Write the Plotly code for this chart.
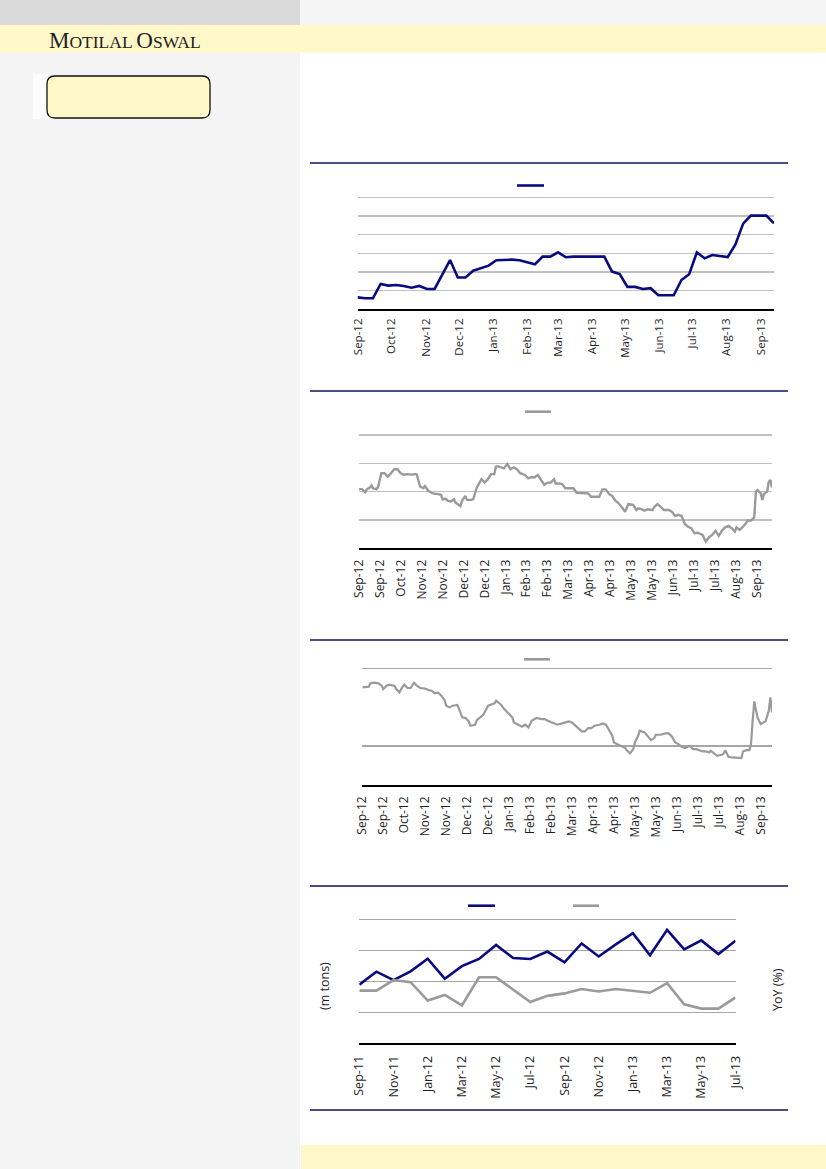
import pandas as pd
import plotly.graph_objects as go

W, H = 826, 1169
def X(px): return px / W
def Y(py): return 1 - py / H

# ---------------- Chart 1 : weekly series ----------------
c1_start = "2012-08-31"
c1_values = [0.64, 0.59, 0.59, 1.36, 1.27, 1.30, 1.25, 1.16, 1.25, 1.09, 1.09, 1.84, 2.64,
             1.70, 1.70, 2.07, 2.20, 2.34, 2.63, 2.66, 2.66, 2.63, 2.52, 2.41, 2.82, 2.82,
             3.05, 2.79, 2.82, 2.82, 2.82, 2.82, 2.82, 2.02, 1.89, 1.20, 1.20, 1.09, 1.13,
             0.75, 0.75, 0.75, 1.57, 1.88, 3.05, 2.73, 2.91, 2.86, 2.80, 3.48, 4.59, 5.02,
             5.02, 5.02, 4.61]
c1_dates = pd.date_range(c1_start, periods=len(c1_values), freq="7D")

# ---------------- Chart 2 : daily series (trading-day index) ----------------
c2_day = [0, 2, 4, 5, 7, 8, 9, 11, 12, 14, 16, 18, 20, 22, 24, 26, 28, 30, 33, 35, 36, 38, 40, 41,
          43, 45, 47, 49, 51, 52, 54, 55, 57, 59, 60, 63, 64, 66, 67, 70, 71, 73, 76, 78, 80, 82,
          84, 85, 86, 88, 90, 92, 94, 96, 98, 100, 103, 105, 107, 109, 111, 113, 115, 117, 119,
          121, 122, 124, 126, 128, 130, 133, 135, 137, 140, 142, 144, 147, 149, 151, 153, 155,
          157, 159, 161, 163, 165, 167, 170, 172, 173, 175, 177, 179, 182, 183, 185, 187, 189,
          192, 194, 196, 198, 200, 202, 204, 206, 208, 210, 213, 215, 217, 219, 221, 223, 225,
          227, 229, 231, 233, 234, 236, 239, 241, 243, 245, 246, 247, 249, 250, 251, 253, 254,
          255, 256]
c2_val = [2.09, 2.09, 1.98, 2.08, 2.15, 2.22, 2.11, 2.09, 2.16, 2.65, 2.65, 2.53, 2.65, 2.79, 2.79,
          2.65, 2.60, 2.62, 2.60, 2.62, 2.60, 2.18, 2.12, 2.20, 2.04, 1.96, 1.92, 1.92, 1.88, 1.73,
          1.75, 1.68, 1.65, 1.73, 1.61, 1.49, 1.68, 1.85, 1.71, 1.71, 1.74, 2.12, 2.44, 2.32, 2.44,
          2.62, 2.62, 2.88, 2.90, 2.86, 2.82, 2.98, 2.79, 2.86, 2.79, 2.65, 2.59, 2.47, 2.51, 2.51,
          2.59, 2.41, 2.24, 2.32, 2.32, 2.44, 2.29, 2.29, 2.27, 2.12, 2.12, 2.12, 1.96, 1.96, 1.96,
          1.94, 1.82, 1.82, 1.82, 2.08, 2.08, 1.92, 1.85, 1.68, 1.59, 1.45, 1.29, 1.56, 1.53, 1.35,
          1.41, 1.38, 1.33, 1.38, 1.35, 1.45, 1.56, 1.47, 1.35, 1.35, 1.29, 1.14, 1.18, 1.14, 0.86,
          0.76, 0.71, 0.53, 0.55, 0.47, 0.24, 0.39, 0.47, 0.62, 0.44, 0.62, 0.74, 0.79, 0.71, 0.59,
          0.74, 0.65, 0.82, 0.98, 0.98, 1.09, 2.00, 2.06, 1.94, 1.71, 1.92, 2.00, 2.35, 2.41, 2.15]
c2_last_day = 256

# ---------------- Chart 3 : daily series (trading-day index) ----------------
c3_day = [0, 2, 4, 5, 7, 10, 12, 13, 15, 17, 20, 21, 23, 25, 26, 28, 30, 32, 34, 36, 39, 41, 43,
          45, 47, 49, 51, 52, 54, 56, 59, 60, 62, 64, 66, 67, 70, 71, 73, 75, 78, 80, 82, 83, 86,
          88, 91, 93, 94, 97, 99, 101, 103, 105, 107, 108, 111, 113, 115, 118, 120, 121, 124, 126,
          128, 130, 132, 134, 136, 138, 140, 142, 144, 147, 149, 151, 153, 155, 156, 158, 161,
          163, 164, 166, 168, 169, 171, 172, 175, 178, 179, 181, 182, 185, 188, 190, 192, 194,
          196, 198, 200, 203, 205, 207, 209, 211, 213, 215, 216, 218, 220, 223, 224, 225, 227,
          229, 232, 235, 236, 238, 240, 241, 242, 243, 245, 247, 250, 252, 253, 254]
c3_val = [1.755, 1.755, 1.764, 1.807, 1.815, 1.807, 1.777, 1.734, 1.777, 1.790, 1.773, 1.734, 1.691,
          1.764, 1.790, 1.747, 1.747, 1.815, 1.773, 1.747, 1.738, 1.721, 1.712, 1.678, 1.687, 1.648,
          1.592, 1.519, 1.498, 1.519, 1.528, 1.476, 1.369, 1.360, 1.318, 1.262, 1.275, 1.335, 1.369,
          1.403, 1.519, 1.532, 1.549, 1.584, 1.532, 1.476, 1.412, 1.369, 1.305, 1.275, 1.249, 1.275,
          1.240, 1.326, 1.348, 1.361, 1.348, 1.348, 1.326, 1.305, 1.292, 1.275, 1.292, 1.305, 1.318,
          1.305, 1.262, 1.219, 1.189, 1.189, 1.232, 1.232, 1.262, 1.275, 1.292, 1.275, 1.197, 1.133,
          1.047, 1.026, 1.004, 0.974, 0.948, 0.906, 0.961, 1.047, 1.133, 1.197, 1.176, 1.103, 1.077,
          1.103, 1.146, 1.146, 1.163, 1.163, 1.120, 1.047, 1.026, 0.991, 0.974, 1.004, 0.961, 0.961,
          0.948, 0.931, 0.931, 0.918, 0.940, 0.906, 0.876, 0.888, 0.906, 0.948, 0.863, 0.854, 0.854,
          0.845, 0.931, 0.948, 0.948, 1.026, 1.326, 1.575, 1.369, 1.283, 1.318, 1.455, 1.627, 1.433]
c3_last_day = 254

daily_tick_labels = ["Sep-12", "Sep-12", "Oct-12", "Nov-12", "Nov-12", "Dec-12", "Dec-12",
                     "Jan-13", "Feb-13", "Feb-13", "Mar-13", "Apr-13", "Apr-13", "May-13",
                     "May-13", "Jun-13", "Jul-13", "Jul-13", "Aug-13", "Sep-13"]
daily_tick_step = 13

# ---------------- Chart 4 : monthly, two series ----------------
c4_months = ["Sep-11", "Oct-11", "Nov-11", "Dec-11", "Jan-12", "Feb-12", "Mar-12", "Apr-12",
             "May-12", "Jun-12", "Jul-12", "Aug-12", "Sep-12", "Oct-12", "Nov-12", "Dec-12",
             "Jan-13", "Feb-13", "Mar-13", "Apr-13", "May-13", "Jun-13", "Jul-13"]
c4_volume = [1.89, 2.31, 2.04, 2.32, 2.73, 2.08, 2.49, 2.72, 3.17, 2.75, 2.72, 2.96, 2.61, 3.22,
             2.80, 3.19, 3.55, 2.84, 3.66, 3.03, 3.32, 2.88, 3.31]
c4_yoy = [1.70, 1.70, 2.04, 1.97, 1.38, 1.56, 1.22, 2.13, 2.13, 1.72, 1.33, 1.53, 1.61, 1.75,
          1.67, 1.75, 1.68, 1.63, 1.94, 1.26, 1.12, 1.12, 1.48]
c4_left_title = "(m tons)"
c4_right_title = "YoY (%)"

brand_text = ("<span style='font-size:23px'>M</span>OTILAL "
              "<span style='font-size:23px'>O</span>SWAL")

# ---------------- styling ----------------
NAVY = "#0a0a80"
GREY = "#9a9a9a"
YELLOW = "#fff8c9"
RULE = "#12125e"
def tf(size):
    return dict(family="Open Sans", size=size, color="#1e1e1e")

fig = go.Figure()
fig.add_trace(go.Scatter(x=c1_dates, y=c1_values, mode="lines", hoverinfo="skip",
                         line=dict(color=NAVY, width=2.6), xaxis="x", yaxis="y"))
fig.add_trace(go.Scatter(x=c2_day, y=c2_val, mode="lines", hoverinfo="skip",
                         line=dict(color=GREY, width=2.4), xaxis="x2", yaxis="y2"))
fig.add_trace(go.Scatter(x=c3_day, y=c3_val, mode="lines", hoverinfo="skip",
                         line=dict(color=GREY, width=2.2), xaxis="x3", yaxis="y3"))
fig.add_trace(go.Scatter(x=c4_months, y=c4_volume, mode="lines", hoverinfo="skip",
                         line=dict(color=NAVY, width=2.6), xaxis="x4", yaxis="y4"))
fig.add_trace(go.Scatter(x=c4_months, y=c4_yoy, mode="lines", hoverinfo="skip",
                         line=dict(color=GREY, width=2.6), xaxis="x4", yaxis="y5"))

def xax(x0, x1, anchor, standoff, size, **kw):
    d = dict(domain=[X(x0), X(x1)], anchor=anchor, showgrid=False, zeroline=False,
             showline=True, linecolor="black", linewidth=1.6, ticks="outside", ticklen=2,
             tickcolor="rgba(0,0,0,0)", tickangle=-90, tickfont=tf(size),
             ticklabelstandoff=standoff, fixedrange=True, automargin=False)
    d.update(kw)
    return d

def yax(y_top_grid, y_axis, anchor, vmin, vmax, vals, grid):
    # extend the plot 2px above the top gridline so that gridline is drawn
    ppu = (y_axis - y_top_grid) / (vmax - vmin)
    extra = 2.0
    return dict(domain=[Y(y_axis), Y(y_top_grid - extra)], anchor=anchor,
                range=[vmin, vmax + extra / ppu], tickvals=vals,
                showticklabels=False, showgrid=True, gridcolor=grid, gridwidth=1.2,
                zeroline=False, showline=False, ticks="", fixedrange=True, automargin=False)

fig.update_layout(
    width=W, height=H, autosize=False,
    margin=dict(l=0, r=0, t=0, b=0, pad=0, autoexpand=False),
    paper_bgcolor="white", plot_bgcolor="rgba(0,0,0,0)", showlegend=False,
    xaxis=xax(357.5, 774, "y", 1, 11.5, type="date", range=[c1_dates[0], c1_dates[-1]],
              dtick="M1", tick0="2012-09-01", tickformat="%b-%y"),
    yaxis=yax(197.3, 309.3, "x", 0, 6, [1, 2, 3, 4, 5, 6], "#c0c0c0"),
    xaxis2=xax(358.7, 772, "y2", 3, 12, range=[0, c2_last_day],
               tickvals=[i * daily_tick_step for i in range(len(daily_tick_labels))],
               ticktext=daily_tick_labels),
    yaxis2=yax(435, 548.3, "x2", 0, 4, [1, 2, 3, 4], "#c0c0c0"),
    xaxis3=xax(362.3, 772, "y3", 3, 12, range=[0, c3_last_day],
               tickvals=[i * daily_tick_step for i in range(len(daily_tick_labels))],
               ticktext=daily_tick_labels),
    yaxis3=yax(668.3, 785, "x3", 0.5, 2, [1, 2], "#a6a6a6"),
    xaxis4=xax(359.3, 735.5, "y4", 4, 12.5, type="category", range=[0, len(c4_months) - 1],
               tickvals=c4_months[::2]),
    yaxis4=yax(919.3, 1043.3, "x4", 0, 4, [1, 2, 3, 4], "#a6a6a6"),
)
y4 = fig.layout.yaxis4
fig.update_layout(yaxis5=dict(overlaying="y4", side="right", anchor="x4", range=list(y4.range),
                              showgrid=False, showticklabels=False, zeroline=False,
                              showline=False, ticks="", fixedrange=True, automargin=False))

shapes = []
def rect(x0, y0, x1, y1, color, layer="below"):
    shapes.append(dict(type="rect", xref="paper", yref="paper", x0=X(x0), x1=X(x1),
                       y0=Y(y1), y1=Y(y0), fillcolor=color, line=dict(width=0), layer=layer))
def hline(x0, x1, y, color, width):
    shapes.append(dict(type="line", xref="paper", yref="paper", x0=X(x0), x1=X(x1),
                       y0=Y(y), y1=Y(y), line=dict(color=color, width=width), layer="above"))

# page decoration
rect(0, 0, 300, H, "#f4f4f4")
rect(0, 0, 300, 25, "#dadada")
rect(300, 0, W, 25, "#f5f5f5")
rect(0, 25, W, 52.5, YELLOW)
rect(301, 1145, W, H, YELLOW)
rect(33, 74, 48, 119, "#fcfcfc")

# rounded box
bx0, by0, bx1, by1, r = 47, 76, 210, 118, 8
path = (f"M {X(bx0 + r)},{Y(by0)} L {X(bx1 - r)},{Y(by0)} Q {X(bx1)},{Y(by0)} {X(bx1)},{Y(by0 + r)} "
        f"L {X(bx1)},{Y(by1 - r)} Q {X(bx1)},{Y(by1)} {X(bx1 - r)},{Y(by1)} "
        f"L {X(bx0 + r)},{Y(by1)} Q {X(bx0)},{Y(by1)} {X(bx0)},{Y(by1 - r)} "
        f"L {X(bx0)},{Y(by0 + r)} Q {X(bx0)},{Y(by0)} {X(bx0 + r)},{Y(by0)} Z")
shapes.append(dict(type="path", xref="paper", yref="paper", path=path, fillcolor=YELLOW,
                   line=dict(color="#111111", width=1.3), layer="below"))

# section rules
for yy in [163, 391, 640, 886, 1110]:
    hline(310, 788, yy, RULE, 1.4)

# legend keys
hline(517, 544, 185.5, NAVY, 2.6)
hline(525, 551, 411.7, GREY, 2.6)
hline(524, 550, 659.3, GREY, 2.6)
hline(468, 495, 905.7, NAVY, 2.6)
hline(573, 599, 905.7, GREY, 2.6)

fig.update_layout(shapes=shapes)

annotations = [
    dict(text=brand_text, x=X(47), y=Y(41), xref="paper", yref="paper", xanchor="left",
         yanchor="middle", showarrow=False,
         font=dict(family="Liberation Serif", size=17.5, color="#222222")),
    dict(text=c4_left_title, x=X(324), y=Y(986), xref="paper", yref="paper", textangle=-90,
         xanchor="center", yanchor="middle", showarrow=False, font=tf(12.5)),
    dict(text=c4_right_title, x=X(777), y=Y(990), xref="paper", yref="paper", textangle=-90,
         xanchor="center", yanchor="middle", showarrow=False, font=tf(12.5)),
]
fig.update_layout(annotations=annotations)

fig.write_html("out.html",
               config=dict(displayModeBar=False, responsive=False, staticPlot=True),
               post_script="document.body.style.margin='0px';"
                           "document.body.style.overflow='hidden';"
                           "document.documentElement.style.overflow='hidden';")
